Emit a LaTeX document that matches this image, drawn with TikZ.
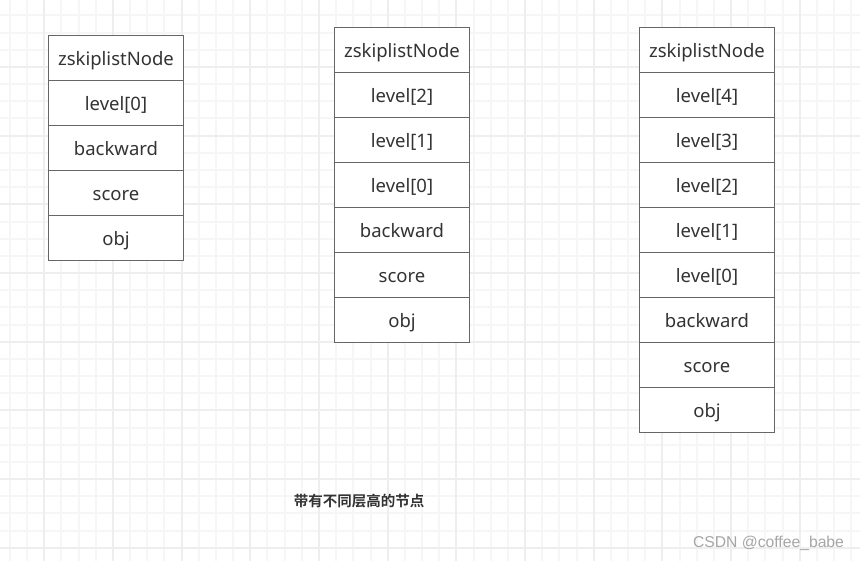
\documentclass[tikz,border=0pt]{standalone}
\usepackage{fontspec}
\setmainfont{Noto Sans}
\newfontfamily\cjkbold[BoldFont={Noto Sans CJK SC Bold}]{Noto Sans CJK SC}
\newfontfamily\wmfont{Liberation Sans}
\definecolor{boxc}{HTML}{666666}
\definecolor{txt}{HTML}{333333}
\definecolor{gminor}{HTML}{F6F6F6}
\definecolor{gmajor}{HTML}{EEEEEE}
\definecolor{wmc}{HTML}{A6A6A6}
\tikzset{
  cell/.style={draw=boxc, fill=white, minimum width=135pt, minimum height=45pt,
    inner sep=0pt, anchor=north west, line width=1pt, text=txt,
    text height=17.5pt, text depth=2pt,
    font=\fontsize{18.5}{21}\selectfont},
  gridminor/.style={draw=gminor, line width=1.8pt},
  gridmajor/.style={draw=gmajor, line width=2pt},
}
\begin{document}
\begin{tikzpicture}[x=1pt,y=-1pt]
\useasboundingbox (0,0) rectangle (860,561);
\fill[white] (0,0) rectangle (860,561);
% grid
\begin{scope}
\clip (0,0) rectangle (860,561);
\foreach \k in {1,...,52}{
  \pgfmathtruncatemacro{\gx}{round(-24.4+\k*17.17)}
  \pgfmathtruncatemacro{\gm}{mod(\k,4)}
  \ifnum\gm>0 \draw[gridminor] (\gx,0) -- (\gx,561); \fi
}
\foreach \k in {1,...,34}{
  \pgfmathtruncatemacro{\gy}{round(-1.7+\k*17.17)}
  \pgfmathtruncatemacro{\gm}{mod(\k,4)}
  \ifnum\gm>0 \draw[gridminor] (0,\gy) -- (860,\gy); \fi
}
\foreach \k in {4,8,...,52}{
  \pgfmathtruncatemacro{\gx}{round(-24.4+\k*17.17)}
  \draw[gridmajor] (\gx,0) -- (\gx,561);
}
\foreach \k in {4,8,...,32}{
  \pgfmathtruncatemacro{\gy}{round(-1.7+\k*17.17)}
  \draw[gridmajor] (0,\gy) -- (860,\gy);
}
\end{scope}
% box 1
\node[cell] (a0) at (48,35)  {zskiplistNode};
\node[cell] (a1) at (48,80)  {level[0]};
\node[cell] (a2) at (48,125) {backward};
\node[cell] (a3) at (48,170) {score};
\node[cell] (a4) at (48,215) {obj};
% box 2
\node[cell] (b0) at (334,27)  {zskiplistNode};
\node[cell] (b1) at (334,72)  {level[2]};
\node[cell] (b2) at (334,117) {level[1]};
\node[cell] (b3) at (334,162) {level[0]};
\node[cell] (b4) at (334,207) {backward};
\node[cell] (b5) at (334,252) {score};
\node[cell] (b6) at (334,297) {obj};
% box 3
\node[cell] (c0) at (639,27)  {zskiplistNode};
\node[cell] (c1) at (639,72)  {level[4]};
\node[cell] (c2) at (639,117) {level[3]};
\node[cell] (c3) at (639,162) {level[2]};
\node[cell] (c4) at (639,207) {level[1]};
\node[cell] (c5) at (639,252) {level[0]};
\node[cell] (c6) at (639,297) {backward};
\node[cell] (c7) at (639,342) {score};
\node[cell] (c8) at (639,387) {obj};
% caption
\node[text=txt, inner sep=0pt, font=\cjkbold\bfseries\fontsize{14.5}{16}\selectfont] (cap) at (359,501) {带有不同层高的节点};
% watermark
\node[text=wmc, inner sep=0pt, font=\wmfont\fontsize{15.7}{17}\selectfont] (wm) at (768.5,543) {CSDN @coffee\_babe};
\end{tikzpicture}
\end{document}
